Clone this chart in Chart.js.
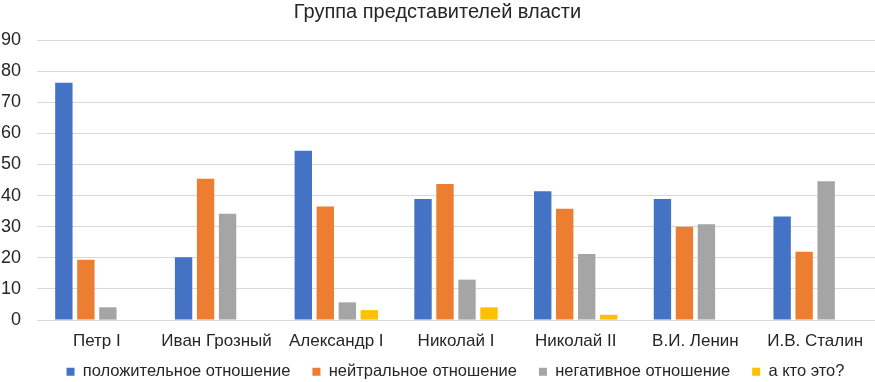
<!DOCTYPE html>
<html>
<head>
<meta charset="utf-8">
<script src="https://cdn.jsdelivr.net/npm/chart.js@4/dist/chart.umd.min.js"></script>
<style>
  html, body { margin: 0; padding: 0; background: #fff; }
  #wrap { width: 875px; height: 382px; }
</style>
</head>
<body>
<div id="wrap"><canvas id="chart"></canvas></div>
<script>
// categories and series
var rulers = ['Петр I', 'Иван Грозный', 'Александр I', 'Николай I', 'Николай II', 'В.И. Ленин', 'И.В. Сталин'];
var positive = [76.3, 20.2, 54.4, 38.9, 41.4, 38.9, 33.3];
var neutral = [19.4, 45.4, 36.5, 43.7, 35.8, 30.0, 22.0];
var negative = [4.1, 34.2, 5.7, 13.0, 21.2, 30.8, 44.6];
var unknown = [null, null, 3.2, 4.1, 1.7, null, null];

var seriesNames = ['положительное отношение', 'нейтральное отношение', 'негативное отношение', 'а кто это?'];
var seriesColors = ['#4472C4', '#ED7D31', '#A5A5A5', '#FFC000'];

var font = 'Liberation Sans, Arial, sans-serif';
var ink = '#262626';

var seriesData = [positive, neutral, negative, unknown];
var datasets = seriesData.map(function (vals, i) {
  return {
    label: seriesNames[i],
    data: vals,
    backgroundColor: seriesColors[i],
    borderWidth: 0,
    barPercentage: 0.79,
    categoryPercentage: 0.735
  };
});

// legend sits a bit higher and more to the right than chart.js puts it
var legendNudge = {
  id: 'legendNudge',
  afterLayout: function (chart) {
    var lg = chart.legend;
    lg.top -= 21; lg.bottom -= 21;
    lg.left += 18; lg.right += 18;
  }
};

var config = {
  type: 'bar',
  data: { labels: rulers, datasets: datasets },
  options: {
    responsive: true,
    maintainAspectRatio: false,
    animation: false,
    layout: { padding: { left: 0, right: 0, top: 0, bottom: -29 } },
    plugins: {
      title: {
        display: true,
        text: 'Группа представителей власти',
        color: ink,
        font: { family: font, size: 20, weight: 'normal' },
        padding: { top: 0, bottom: 16 }
      },
      legend: {
        position: 'bottom',
        labels: {
          color: ink,
          font: { family: font, size: 16.5 },
          boxWidth: 8,
          boxHeight: 8,
          padding: 22
        }
      },
      tooltip: { enabled: false }
    },
    scales: {
      x: {
        grid: { display: false, drawTicks: false },
        border: { color: '#d9d9d9' },
        ticks: { color: ink, font: { family: font, size: 17 }, padding: 11 }
      },
      y: {
        min: 0,
        max: 90,
        ticks: { stepSize: 10, color: ink, font: { family: font, size: 18 }, padding: 16 },
        grid: { color: '#d9d9d9', drawTicks: false },
        border: { display: false },
        afterFit: function (scale) { scale.width = 37; }
      }
    }
  },
  plugins: [legendNudge]
};

var chart = new Chart(document.getElementById('chart'), config);
</script>
</body>
</html>
